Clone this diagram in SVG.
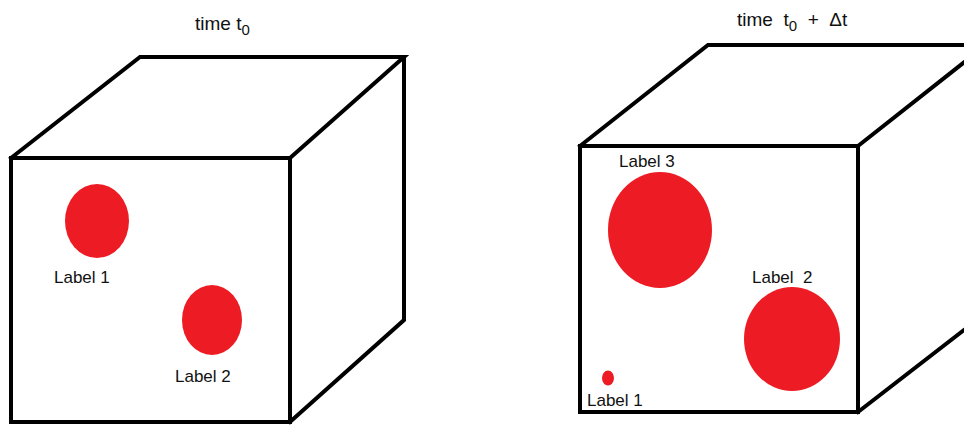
<svg xmlns="http://www.w3.org/2000/svg" width="964" height="425" viewBox="0 0 964 425">
<style>
.edge{fill:none;stroke:#000;stroke-width:4;stroke-linejoin:miter;stroke-linecap:square}
.blob{fill:#ed1c24}
.lbl{font-family:"Liberation Sans",Arial,sans-serif;font-size:17px;fill:#111}
.ttl{font-family:"Liberation Sans",Arial,sans-serif;font-size:19px;fill:#111}
</style>
<rect width="964" height="425" fill="#fff"/>
<g id="cube-t0">
<path class="edge" d="M11,158 H290 V422 H11 Z M11,158 L140,57 H404 L290,158 M404,57 V320 L290,422"/>
</g>
<g id="cube-t1">
<path class="edge" d="M580,146 H858 V412 H580 Z M580,146 L708,45 H990 M858,146 L986,45 M858,412 L986,313"/>
</g>
<g id="title-t0"><text class="ttl" x="195" y="30">time t<tspan font-size="15" dy="5">0</tspan></text></g>
<g id="title-t1"><text class="ttl" x="737" y="26" xml:space="preserve">time  t<tspan font-size="15" dy="5">0</tspan><tspan dy="-5">  +  Δt</tspan></text></g>
<g id="left-label1"><ellipse class="blob" cx="97" cy="221" rx="32" ry="37"/><text class="lbl" x="54" y="283">Label 1</text></g>
<g id="left-label2"><ellipse class="blob" cx="212" cy="320" rx="30" ry="35"/><text class="lbl" x="175" y="382">Label 2</text></g>
<g id="right-label3"><ellipse class="blob" cx="660" cy="230" rx="52" ry="58"/><text class="lbl" x="619" y="167">Label 3</text></g>
<g id="right-label2"><ellipse class="blob" cx="792" cy="339" rx="48" ry="52"/><text class="lbl" x="752" y="283" xml:space="preserve">Label  2</text></g>
<g id="right-label1"><ellipse class="blob" cx="608" cy="378" rx="6" ry="7.5"/><text class="lbl" x="587" y="406">Label 1</text></g>
<g id="connectors"></g>
</svg>
